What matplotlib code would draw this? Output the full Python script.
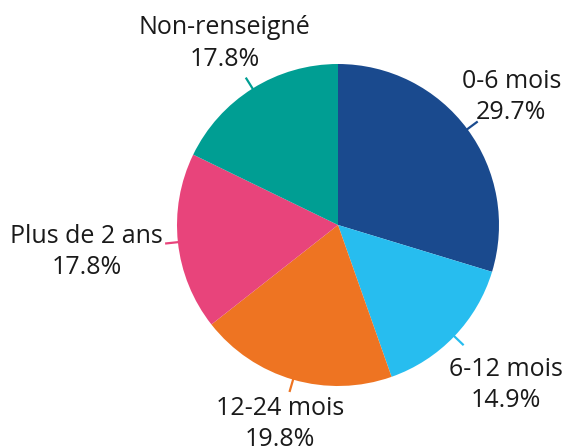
import numpy as np
import matplotlib
matplotlib.use("Agg")
import matplotlib.pyplot as plt

categories = ["0-6 mois", "6-12 mois", "12-24 mois", "Plus de 2 ans", "Non-renseigné"]
values = [29.7, 14.9, 19.8, 17.8, 17.8]
colors = ["#1a4a8e", "#27bdef", "#ee7422", "#e8447b", "#009e93"]
label_dist = [1.34, 1.44, 1.29, 1.57, 1.33]

plt.rcParams['font.family'] = ['Open Sans', 'DejaVu Sans']

W, H = 568, 448
fig = plt.figure(figsize=(W / 100, H / 100), dpi=100)
ax = fig.add_axes([0, 0, 1, 1])
R = 161.0
cx, cy = 338.0, 225.0

wedges, _ = ax.pie(values, colors=colors, startangle=90, counterclock=False,
                   radius=1.0, center=(0, 0), frame=True,
                   wedgeprops=dict(linewidth=0))
ax.set_xlim(-cx / R, (W - cx) / R)
ax.set_ylim(-(H - cy) / R, cy / R)
ax.set_aspect('equal')
ax.axis('off')

total = sum(values)
cum = 0.0
for cat, v, col, ld in zip(categories, values, colors, label_dist):
    mid = (cum + v / 2) / total * 2 * np.pi  # clockwise from top
    cum += v
    ux, uy = np.sin(mid), np.cos(mid)
    ax.plot([0.47 * ux, 1.08 * ux], [0.47 * uy, 1.08 * uy], color=col, lw=1.6,
            solid_capstyle='butt', zorder=5)
    ax.text(ld * ux, ld * uy, f"{cat}\n{v:.1f}%", ha='center', va='center',
            fontsize=18, color='#1a1a1a', linespacing=1.32, zorder=6)

fig.savefig("out.png", dpi=100)
